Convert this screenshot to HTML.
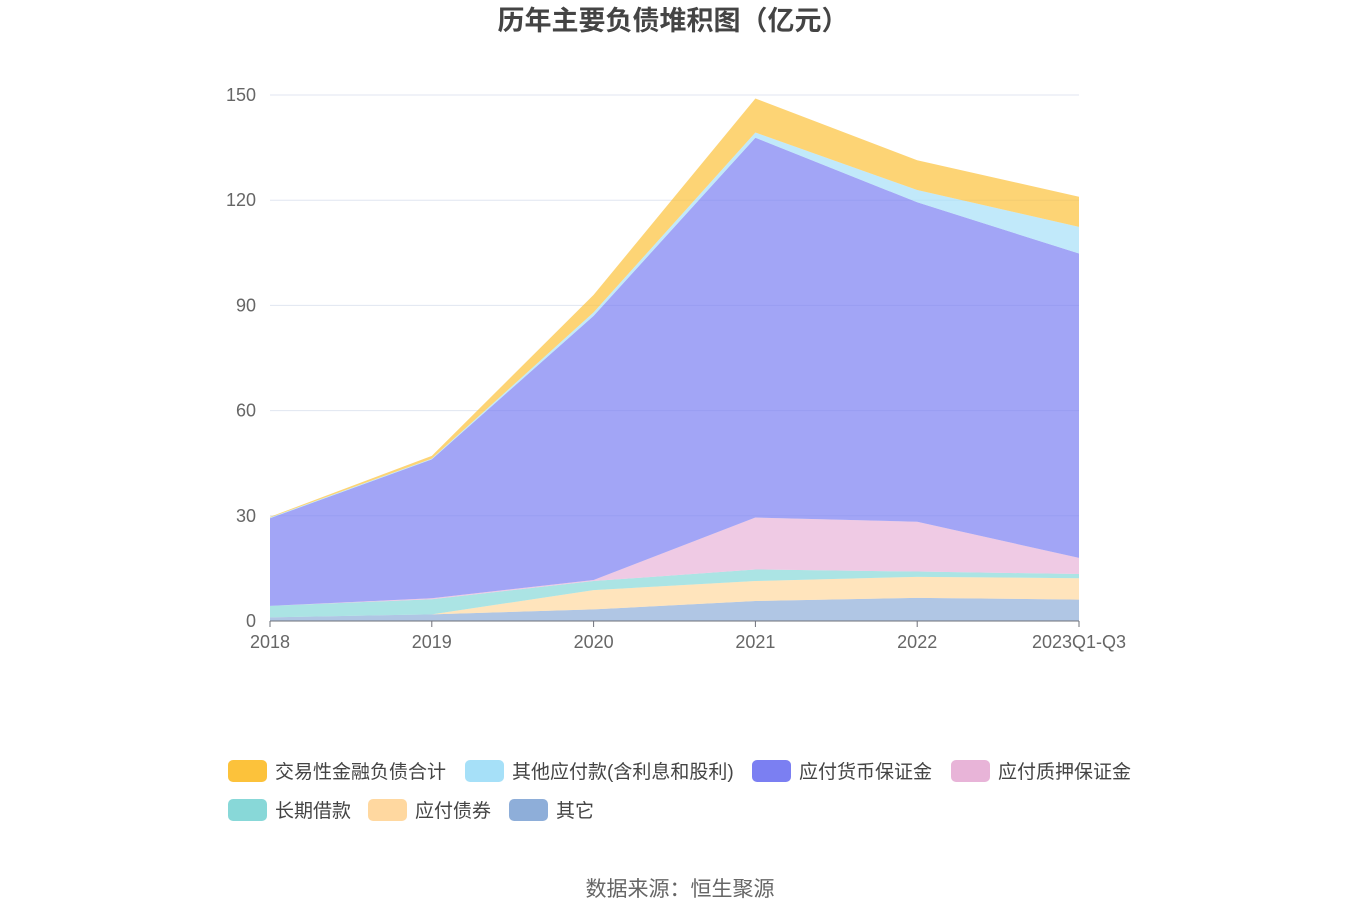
<!DOCTYPE html>
<html><head><meta charset="utf-8"><style>
body{margin:0;background:#fff;font-family:"Liberation Sans","Noto Sans CJK SC",sans-serif;}
</style></head><body>
<svg id="chart" width="1360" height="920" xmlns="http://www.w3.org/2000/svg" style="display:block">
<text x="673" y="30" text-anchor="middle" font-size="27" font-weight="bold" fill="#444" font-family="Liberation Sans, Noto Sans CJK SC, sans-serif">历年主要负债堆积图（亿元）</text>
<g id="grid"></g><g id="areas"></g><g id="axes"></g><g id="legend"></g>
<text x="680" y="896" text-anchor="middle" font-size="21" fill="#666" font-family="Liberation Sans, Noto Sans CJK SC, sans-serif">数据来源：恒生聚源</text>
</svg>
<script>
const categories=["2018","2019","2020","2021","2022","2023Q1-Q3"];
const seriesNames=["其它","应付债券","长期借款","应付质押保证金","应付货币保证金","其他应付款(含利息和股利)","交易性金融负债合计"];
const other=[1.05,1.9,3.3,5.7,6.6,6.1];
const bonds=[0,0,5.5,5.7,6.0,6.1];
const loans=[3.25,4.3,2.6,3.3,1.5,1.2];
const pledge=[0,0.3,0.3,14.8,14.2,4.6];
const currency=[25.0,39.6,75.3,108.3,91.1,86.8];
const otherPay=[0.2,0.2,1.0,1.5,3.5,7.6];
const trading=[0.2,0.8,5.0,9.7,8.5,8.6];
const yTicks=[0,30,60,90,120,150];
const colors=["#8eaed9","#ffd8a0","#88d8d8","#e8b4d8","#7b7ff2","#a6e0f8","#fcc23b"];
const series=[other,bonds,loans,pledge,currency,otherPay,trading];
const NS="http://www.w3.org/2000/svg";
const x0=270,x1=1079,y0=621,y1=95,ymax=150;
const xs=i=>x0+(x1-x0)*i/(categories.length-1);
const ys=v=>y0-(y0-y1)*v/ymax;
function mk(t,a,p){const e=document.createElementNS(NS,t);for(const k in a)e.setAttribute(k,a[k]);p.appendChild(e);return e;}
const grid=document.getElementById('grid'),areas=document.getElementById('areas'),axes=document.getElementById('axes'),legend=document.getElementById('legend');
yTicks.forEach(v=>{
 if(v>0){const l=mk('line',{x1:x0,x2:x1,y1:ys(v),y2:ys(v),stroke:'#e0e6f1','stroke-width':1},grid);
 
 }
 const t=mk('text',{x:256,y:ys(v)+6,'text-anchor':'end','font-size':18,fill:'#666'},axes);t.textContent=v;
 
 
});
let base=categories.map(()=>0);
series.forEach((s,si)=>{
 const top=base.map((b,i)=>b+s[i]);
 let d='M'+categories.map((c,i)=>xs(i)+','+ys(top[i])).join('L');
 for(let i=categories.length-1;i>=0;i--)d+='L'+xs(i)+','+ys(base[i]);
 const p=mk('path',{d:d+'Z',fill:colors[si],'fill-opacity':0.7,stroke:'none'},areas);
 
 
 base=top;
});
mk('line',{x1:x0,x2:x1,y1:y0,y2:y0,stroke:'#6e7079','stroke-width':1},axes);
categories.forEach((c,i)=>{
 mk('line',{x1:xs(i),x2:xs(i),y1:y0,y2:y0+6,stroke:'#6e7079'},axes);
 const t=mk('text',{x:xs(i),y:648,'text-anchor':'middle','font-size':18,fill:'#666'},axes);t.textContent=c;
 
 
});
const legItems=[[6,228,771],[5,465,771],[4,752,771],[3,951,771],[2,228,810],[1,368,810],[0,509,810]];
legItems.forEach(([si,x,y])=>{
 const g=mk('g',{},legend);
 
 
 mk('rect',{x:x,y:y-11,width:39,height:22,rx:5,fill:colors[si]},g);
 const t=mk('text',{x:x+47,y:y+7,'font-size':19,fill:'#444'},g);t.textContent=seriesNames[si];
});
</script>
</body></html>
